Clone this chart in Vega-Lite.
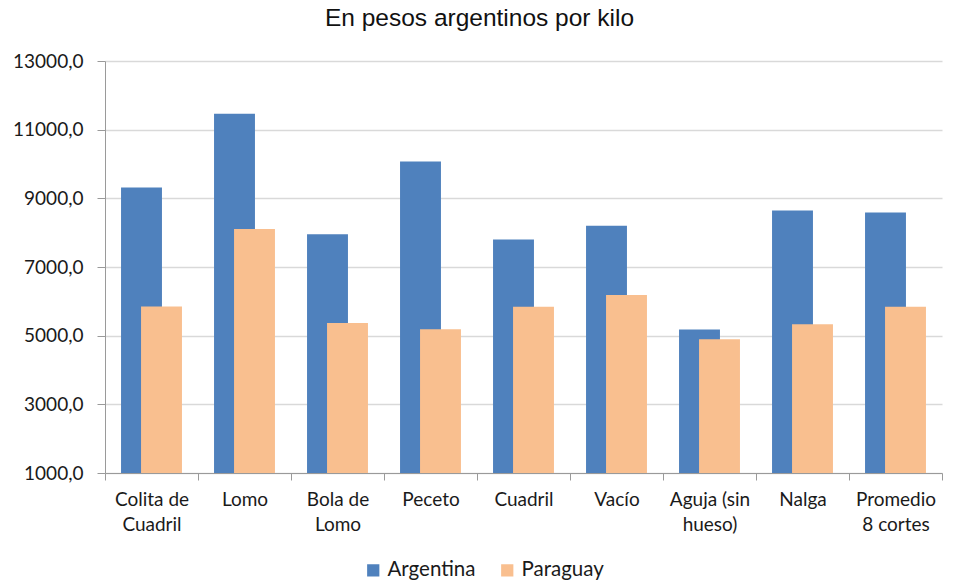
{
  "$schema": "https://vega.github.io/schema/vega-lite/v6.json",
  "width": 837,
  "height": 412,
  "autosize": "none",
  "padding": {"left": 105, "top": 61, "right": 11, "bottom": 110},
  "background": "white",
  "config": {
    "locale": {"number": {"decimal": ",", "thousands": ".", "grouping": [3], "currency": ["$", ""]}},
    "view": {"stroke": null}
  },
  "title": {
    "text": "En pesos argentinos por kilo",
    "font": "Liberation Sans",
    "fontSize": 24.5,
    "fontWeight": "normal",
    "color": "#111111",
    "anchor": "middle",
    "dx": -44,
    "offset": 21
  },
  "data": {
    "values": [
      {"corte": "Colita de Cuadril", "pais": "Argentina", "valor": 9315},
      {"corte": "Colita de Cuadril", "pais": "Paraguay", "valor": 5850},
      {"corte": "Lomo", "pais": "Argentina", "valor": 11460},
      {"corte": "Lomo", "pais": "Paraguay", "valor": 8110},
      {"corte": "Bola de Lomo", "pais": "Argentina", "valor": 7955},
      {"corte": "Bola de Lomo", "pais": "Paraguay", "valor": 5370},
      {"corte": "Peceto", "pais": "Argentina", "valor": 10075},
      {"corte": "Peceto", "pais": "Paraguay", "valor": 5190},
      {"corte": "Cuadril", "pais": "Argentina", "valor": 7800},
      {"corte": "Cuadril", "pais": "Paraguay", "valor": 5845},
      {"corte": "Vacío", "pais": "Argentina", "valor": 8205},
      {"corte": "Vacío", "pais": "Paraguay", "valor": 6185},
      {"corte": "Aguja (sin hueso)", "pais": "Argentina", "valor": 5180},
      {"corte": "Aguja (sin hueso)", "pais": "Paraguay", "valor": 4895},
      {"corte": "Nalga", "pais": "Argentina", "valor": 8645},
      {"corte": "Nalga", "pais": "Paraguay", "valor": 5335},
      {"corte": "Promedio 8 cortes", "pais": "Argentina", "valor": 8585},
      {"corte": "Promedio 8 cortes", "pais": "Paraguay", "valor": 5845}
    ]
  },
  "encoding": {
    "x": {
      "field": "corte",
      "type": "nominal",
      "sort": null,
      "scale": {"paddingInner": 0, "paddingOuter": 0},
      "axis": {
        "title": null,
        "labelAngle": 0,
        "labelFont": "Lato",
        "labelFontSize": 19,
        "labelColor": "#1a1a1a",
        "labelPadding": 10,
        "labelLineHeight": 25,
        "tickBand": "extent",
        "tickSize": 7,
        "tickColor": "#9a9a9a",
        "domainColor": "#9a9a9a",
        "grid": false,
        "labelExpr": "datum.label == 'Colita de Cuadril' ? ['Colita de','Cuadril'] : datum.label == 'Bola de Lomo' ? ['Bola de','Lomo'] : datum.label == 'Aguja (sin hueso)' ? ['Aguja (sin','hueso)'] : datum.label == 'Promedio 8 cortes' ? ['Promedio','8 cortes'] : datum.label"
      }
    },
    "y": {
      "field": "valor",
      "type": "quantitative",
      "scale": {"domain": [1000, 13000], "zero": false, "nice": false},
      "axis": {
        "title": null,
        "values": [1000, 3000, 5000, 7000, 9000, 11000, 13000],
        "format": ".1f",
        "labelFont": "Lato",
        "labelFontSize": 19,
        "labelColor": "#1a1a1a",
        "labelPadding": 14,
        "tickSize": 8,
        "tickColor": "#9a9a9a",
        "domainColor": "#9a9a9a",
        "gridColor": "#D9D9D9",
        "gridWidth": 1.5
      }
    },
    "y2": {"datum": 1000},
    "color": {
      "field": "pais",
      "type": "nominal",
      "scale": {"domain": ["Argentina", "Paraguay"], "range": ["#4F81BD", "#F9BF8F"]},
      "legend": {
        "title": null,
        "orient": "none",
        "direction": "horizontal",
        "legendX": 258,
        "legendY": 499,
        "symbolType": "square",
        "symbolSize": 150,
        "symbolStrokeWidth": 0,
        "labelFont": "Lato",
        "labelFontSize": 20.5,
        "labelColor": "#1a1a1a",
        "labelOffset": 4,
        "columnPadding": 21
      }
    }
  },
  "layer": [
    {
      "transform": [{"filter": "datum.pais == 'Argentina'"}],
      "mark": {"type": "bar", "width": {"band": 0.44}, "xOffset": -10}
    },
    {
      "transform": [{"filter": "datum.pais == 'Paraguay'"}],
      "mark": {"type": "bar", "width": {"band": 0.44}, "xOffset": 10}
    }
  ]
}
